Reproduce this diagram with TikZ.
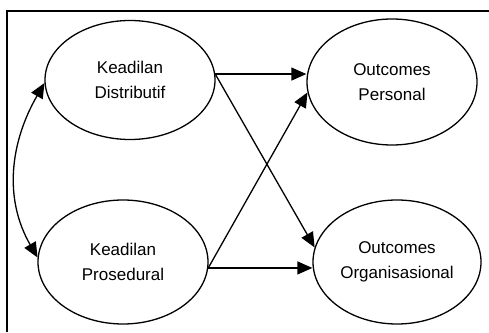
\documentclass[tikz,border=0pt]{standalone}
\usepackage{fontspec}
\setmainfont{Liberation Sans}
\usetikzlibrary{arrows.meta,shapes.geometric}
\tikzset{
  var/.style={ellipse, draw, line width=1.3pt, inner sep=0pt, align=center,
    font=\fontsize{17}{25}\selectfont},
  arr/.style={line width=1.3pt, -{Triangle[length=15pt,width=13pt]}},
  darr/.style={line width=1.3pt, {Triangle[length=15pt,width=13pt]}-{Triangle[length=15pt,width=13pt]}}
}
\begin{document}
\begin{tikzpicture}[x=1pt, y=1pt]
    \useasboundingbox (0,0) rectangle (489,332);
    % Frame
    \draw[line width=1.5pt] (7,0) -- (7,321) -- (489,321);
    % Ellipses
    \node[var, minimum width=170pt, minimum height=119pt] (kd) at (130,252) {Keadilan\\Distributif};
    \node[var, minimum width=170pt, minimum height=124pt] (kp) at (123,70) {Keadilan\\Prosedural};
    \node[var, minimum width=170pt, minimum height=126pt] (op) at (392,250) {Outcomes\\Personal};
    \node[var, minimum width=168pt, minimum height=124pt] (oo) at (397,70) {Outcomes\\Organisasional};
    % Arrows
    \draw[arr] (kd.4) -- (kd.4 -| op.west);
    \draw[arr] (kd.4) -- (oo.170);
    \draw[arr] (kp.-4) -- (op.187);
    \draw[arr] (kp.-4) -- (kp.-4 -| oo.west);
    \draw[darr] (kd.182) to[out=-120, in=120] (kp.177); % curved double arrow
\end{tikzpicture}
\end{document}
